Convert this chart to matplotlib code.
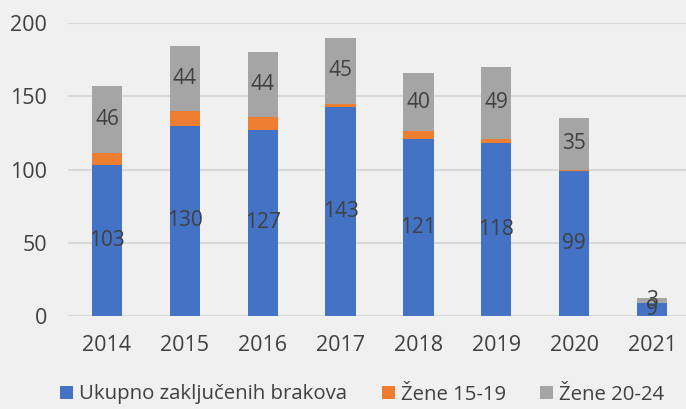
import numpy as np
import matplotlib.pyplot as plt

years = ["2014", "2015", "2016", "2017", "2018", "2019", "2020", "2021"]
ukupno = [103, 130, 127, 143, 121, 118, 99, 9]
zene_15_19 = [8, 10, 9, 2, 5, 3, 1, 0]
zene_20_24 = [46, 44, 44, 45, 40, 49, 35, 3]

BG = "#f0f0f0"
TXT = "#404040"
plt.rcParams['font.family'] = ['Open Sans', 'DejaVu Sans']

fig = plt.figure(figsize=(6.86, 4.09), dpi=100, facecolor=BG)
ax = fig.add_axes([68 / 686, 93 / 409, 623 / 686, 293 / 409], facecolor=BG)

x = np.arange(len(years))
w = 0.39
b1 = ax.bar(x, ukupno, w, color="#4472C4", label="Ukupno zaključenih brakova", zorder=3)
b2 = ax.bar(x, zene_15_19, w, bottom=ukupno, color="#ED7D31", label="Žene 15-19", zorder=3)
bot3 = np.array(ukupno) + np.array(zene_15_19)
b3 = ax.bar(x, zene_20_24, w, bottom=bot3, color="#A5A5A5", label="Žene 20-24", zorder=3)

ax.bar_label(b1, label_type="center", color=TXT, fontsize=15, zorder=4)
ax.bar_label(b3, label_type="center", color=TXT, fontsize=15, zorder=4)

ax.set_xlim(-0.5, len(years) - 0.5)
ax.set_ylim(0, 200)
ax.set_yticks([0, 50, 100, 150, 200])
ax.set_xticks(x)
ax.set_xticklabels(years)
ax.tick_params(axis="both", length=0, labelsize=15.5, labelcolor=TXT)
ax.tick_params(axis="x", pad=14)
ax.tick_params(axis="y", pad=15)
ax.grid(axis="y", color="#d9d9d9", linewidth=1.5, zorder=0)
for s in ax.spines.values():
    s.set_visible(False)

# one legend per entry so each sits where the original has it
for handle, xpos in [(b1, 60), (b2, 382), (b3, 540)]:
    leg = fig.legend(handles=[handle], loc="center left",
                     bbox_to_anchor=(xpos / 686, 14.5 / 409),
                     frameon=False, fontsize=14.7, labelcolor=TXT,
                     borderpad=0, borderaxespad=0,
                     handlelength=0.62, handleheight=0.62, handletextpad=0.3)

fig.savefig("out.png", dpi=100, facecolor=BG)
